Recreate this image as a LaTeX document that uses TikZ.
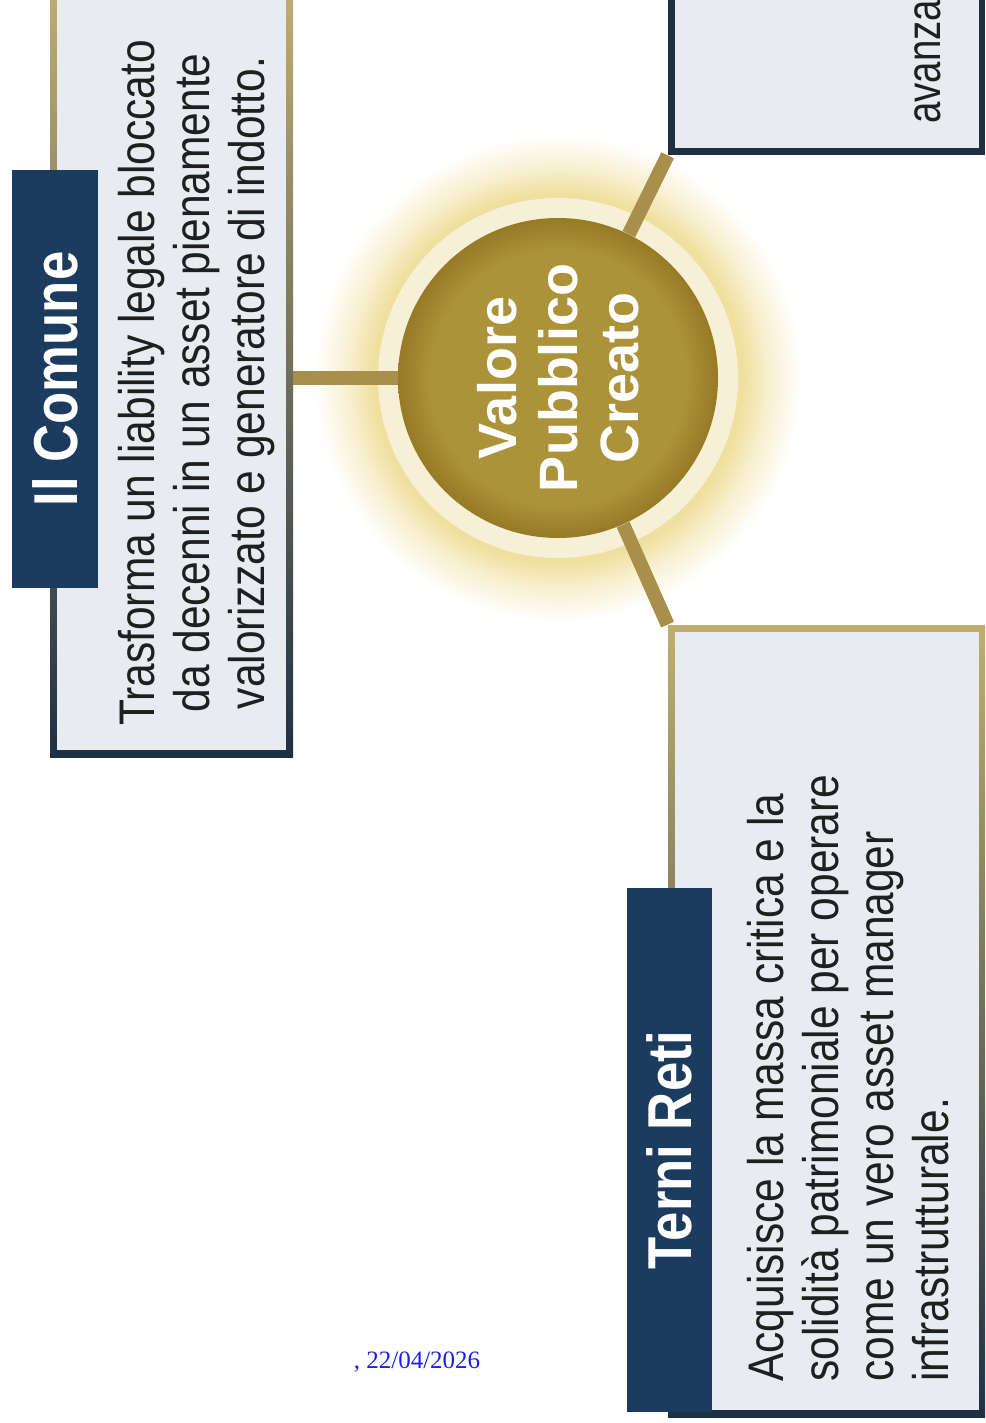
\documentclass[tikz,border=0pt]{standalone}
\usepackage{fontspec}
\setmainfont{Liberation Sans}
\newfontfamily\condfont[FakeStretch=0.85]{Liberation Sans}
\newfontfamily\narrowfont[FakeStretch=0.8]{Liberation Sans}
\newfontfamily\datefont{Liberation Serif}
\usetikzlibrary{backgrounds}

\definecolor{navy}{RGB}{28,60,95}
\definecolor{rimnavy}{RGB}{30,48,68}
\definecolor{gold}{RGB}{168,144,74}
\definecolor{rimgold}{RGB}{192,174,112}
\definecolor{paper}{RGB}{232,236,240}
\definecolor{discin}{RGB}{172,146,56}
\definecolor{discout}{RGB}{150,122,38}
\definecolor{halo}{RGB}{240,224,160}
\definecolor{ringc}{RGB}{247,240,214}
\definecolor{datec}{RGB}{30,30,235}
% the path's box is mapped onto the inner 50bp of the shading
\pgfdeclareradialshading{discshade}{\pgfpoint{0bp}{0bp}}{color(0bp)=(discin); color(20bp)=(discin); color(25bp)=(discout); color(50bp)=(discout)}
\pgfdeclareradialshading{haloshade}{\pgfpoint{0bp}{0bp}}{color(0bp)=(halo); color(19bp)=(halo); color(21.5bp)=(halo!50!white); color(25bp)=(white); color(50bp)=(white)}

\begin{document}
\begin{tikzpicture}[x=0.5pt, y=-0.5pt,
	boxrim/.style={rectangle, inner sep=0pt, top color=rimgold, bottom color=rimnavy},
	boxin/.style={rectangle, inner sep=0pt, fill=paper},
	tab/.style={rectangle, fill=navy, text=white, inner sep=0pt, rotate=90,
		font=\condfont\bfseries\fontsize{31}{33}\selectfont},
	body/.style={rotate=90, inner sep=0pt, text=black!88,
		font=\condfont\fontsize{25}{27.5}\selectfont},
	link/.style={draw=gold, line width=7pt}]
	%\draw[help lines] (0,0) grid[step=100] (985,1423);
	\useasboundingbox (0,0) rectangle (985,1423);
	\clip (0,0) rectangle (985,1423);
	
	\node[circle, shading=discshade, minimum size=160pt, inner sep=0pt, text=white, rotate=90, align=center,
		font=\bfseries\fontsize{27}{30.5}\selectfont] (valore) at (558,378) {Valore\\Pubblico\\Creato};
	
	% Il Comune
	\node[boxrim, minimum width=121.5pt, minimum height=383.5pt] (comune) at (171.5,373.5) {};
	\node[boxin, minimum width=114.5pt, minimum height=376.5pt] (comunein) at (comune) {};
	\node[tab, minimum width=209pt, minimum height=43pt] (comunetab) at (55,379) {Il Comune};
	\node[body, align=center] (comunetxt) at (197,383) {Trasforma un liability legale bloccato\\
		da decenni in un asset pienamente\\valorizzato e generatore di indotto.};
	
	% third box, cut by the edge
	\node[rectangle, inner sep=0pt, fill=rimnavy, minimum width=158.5pt, minimum height=82.5pt] (terzo) at (826.5,72.5) {};
	\node[boxin, minimum width=152pt, minimum height=79pt] (terzoin) at (827,69) {};
	\node[body, anchor=base west, font=\narrowfont\fontsize{24}{26}\selectfont] (terzotxt) at (940,124) {avanza};
	
	% Terni Reti
	\node[boxrim, minimum width=158.5pt, minimum height=396pt] (terni) at (826.5,1021) {};
	\node[boxin, minimum width=152pt, minimum height=389pt] (terniin) at (827,1021) {};
	\node[tab, minimum width=262pt, minimum height=42.5pt] (ternitab) at (669.5,1150) {Terni Reti};
	\node[body, anchor=west, align=left] (ternitxt) at (848,1382) {Acquisisce la massa critica e la\\
		solidità patrimoniale per operare\\come un vero asset manager\\infrastrutturale.};
	
	\node[text=datec, font=\datefont\fontsize{12.5}{14}\selectfont, inner sep=0pt] (datum) at (417,1362) {, 22/04/2026};
	
	\begin{scope}[on background layer]
		\shade[shading=haloshade] (valore.center) circle (122pt);
		\fill[ringc] (valore.center) circle (90pt);
		\draw[link] (comune.east |- valore.center) -- (valore);
		\draw[link] (valore) -- (terzo.south west);
		\draw[link] (valore) -- (terni.north west);
	\end{scope}
	
\end{tikzpicture}
\end{document}
